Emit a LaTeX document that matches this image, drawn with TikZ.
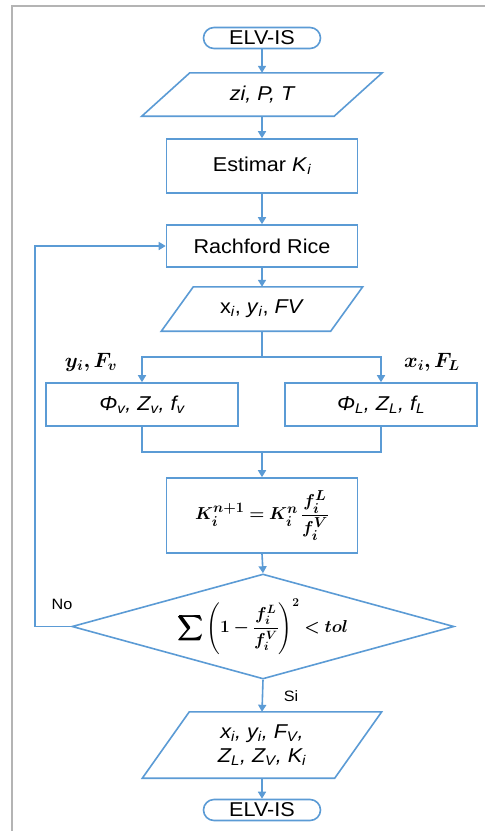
\documentclass[tikz,border=0pt]{standalone}
\usepackage[no-math]{fontspec}
\setmainfont{Liberation Sans}[FakeStretch=1.08]
\usepackage{amsmath,bm}
\usetikzlibrary{shapes.geometric,arrows.meta}
\definecolor{flowblue}{HTML}{5B9BD5}
\definecolor{framegray}{HTML}{B4B4B4}
\newcommand{\lsub}[1]{\textsubscript{#1}}
\newcommand{\txtsize}{\fontsize{20}{24}\selectfont}
\newcommand{\zerobox}[1]{\smash{\makebox[0pt]{\raisebox{-4.5pt}{$\vcenter{\hbox{#1}}$}}}}
\tikzset{
  flow/.style={draw=flowblue, line width=1.6pt},
  arr/.style={flow, -{Triangle[width=8pt,length=7pt]}},
  procbox/.style={flow, rectangle, minimum width=191pt, inner sep=0pt, font=\txtsize, align=center},
  termbox/.style={flow, rectangle, rounded corners=10.5pt, minimum width=117pt, minimum height=21pt, inner sep=0pt, font=\txtsize},
  iobox/.style={rectangle, inner sep=0pt, font=\txtsize, align=center},
  decbox/.style={flow, diamond, minimum width=382pt, minimum height=105pt, inner sep=0pt},
  lbl/.style={font=\fontsize{15}{18}\selectfont, inner sep=1pt},
  mlbl/.style={font=\fontsize{20}{24}\selectfont, inner sep=1pt}
}
\newcommand{\para}[3]{% node name, side, shift
  \draw[flow] ([xshift=-#3/2]#1.south west) -- ([xshift=-#3/2]#1.south east)
    -- ([xshift=#3/2]#1.north east) -- ([xshift=#3/2]#1.north west) -- cycle;}
\begin{document}
\begin{tikzpicture}[x=1pt,y=-1pt]
\useasboundingbox (0,0) rectangle (485,831);
\fill[white] (0,0) rectangle (485,831);
% frame
\draw[framegray, line width=2.5pt] (12,831) -- (12,6) -- (485,6);

% nodes
\node[termbox] (start) at (262,38) {ELV-IS};
\node[iobox, minimum width=192pt, minimum height=43pt] (in1) at (262,94.5) {\itshape zi, P, T};
\para{in1}{192}{48}
\node[procbox, minimum height=54pt] (est) at (262,166) {Estimar \textit{K}\lsub{\itshape i}};
\node[procbox, minimum height=42pt] (rach) at (262,246) {Rachford Rice};
\node[iobox, minimum width=169pt, minimum height=44pt] (in2) at (262,309) {x\lsub{\itshape i}, \textit{y}\lsub{\itshape i}, \textit{FV}};
\para{in2}{169}{32}
\node[procbox, minimum width=192pt, minimum height=43pt] (boxL) at (142,404.5) {\itshape Φ\lsub{v}, Z\lsub{v}, f\lsub{v}};
\node[procbox, minimum width=192pt, minimum height=43pt] (boxR) at (381,404.5) {\itshape Φ\lsub{L}, Z\lsub{L}, f\lsub{L}};
\node[procbox, minimum height=75pt, font=\fontsize{19}{23}\selectfont] (kbox) at (262,515.5)
  {$\bm{K_i^{n+1} = K_i^{n}\,\dfrac{f_i^L}{f_i^V}}$};
\node[decbox, font=\fontsize{17}{20}\selectfont] (dec) at (263,626.5)
  {\zerobox{$\displaystyle\bm{\sum\left(1-\frac{f_i^L}{f_i^V}\right)^{2} < tol}$}};
\node[iobox, minimum width=192pt, minimum height=66pt] (out) at (262,745)
  {\itshape x\lsub{i}, y\lsub{i}, F\lsub{V},\\ \itshape Z\lsub{L}, Z\lsub{V}, K\lsub{i}};
\para{out}{192}{47}
\node[termbox] (end) at (262,810) {ELV-IS};

% labels
\node[mlbl] (lyv) at (91,362) {$\bm{y_i, F_v}$};
\node[mlbl] (lxl) at (432,362) {$\bm{x_i, F_L}$};
\node[lbl] (lno) at (62,604) {No};
\node[lbl] (lsi) at (291,696) {Si};

% connectors
\coordinate (sp) at (262,357);
\coordinate (mg) at (262,452);
\draw[arr] (start.south) -- (in1.north);
\draw[arr] (in1.south) -- (est.north);
\draw[arr] (est.south) -- (rach.north);
\draw[arr] (rach.south) -- (in2.north);
\draw[flow] (in2.south) -- (sp);
\draw[arr] (sp) -| (boxL.north);
\draw[arr] (sp) -| (boxR.north);
\draw[flow] (boxL.south) |- (mg);
\draw[flow] (boxR.south) |- (mg);
\draw[arr] (mg) -- (kbox.north);
\draw[arr] (kbox.south) -- (dec.north);
\draw[arr] (dec.west) -- ++(-36,0) |- (rach.west);
\draw[arr] (dec.south) -- (out.north);
\draw[arr] (out.south) -- (end.north);
\end{tikzpicture}
\end{document}
